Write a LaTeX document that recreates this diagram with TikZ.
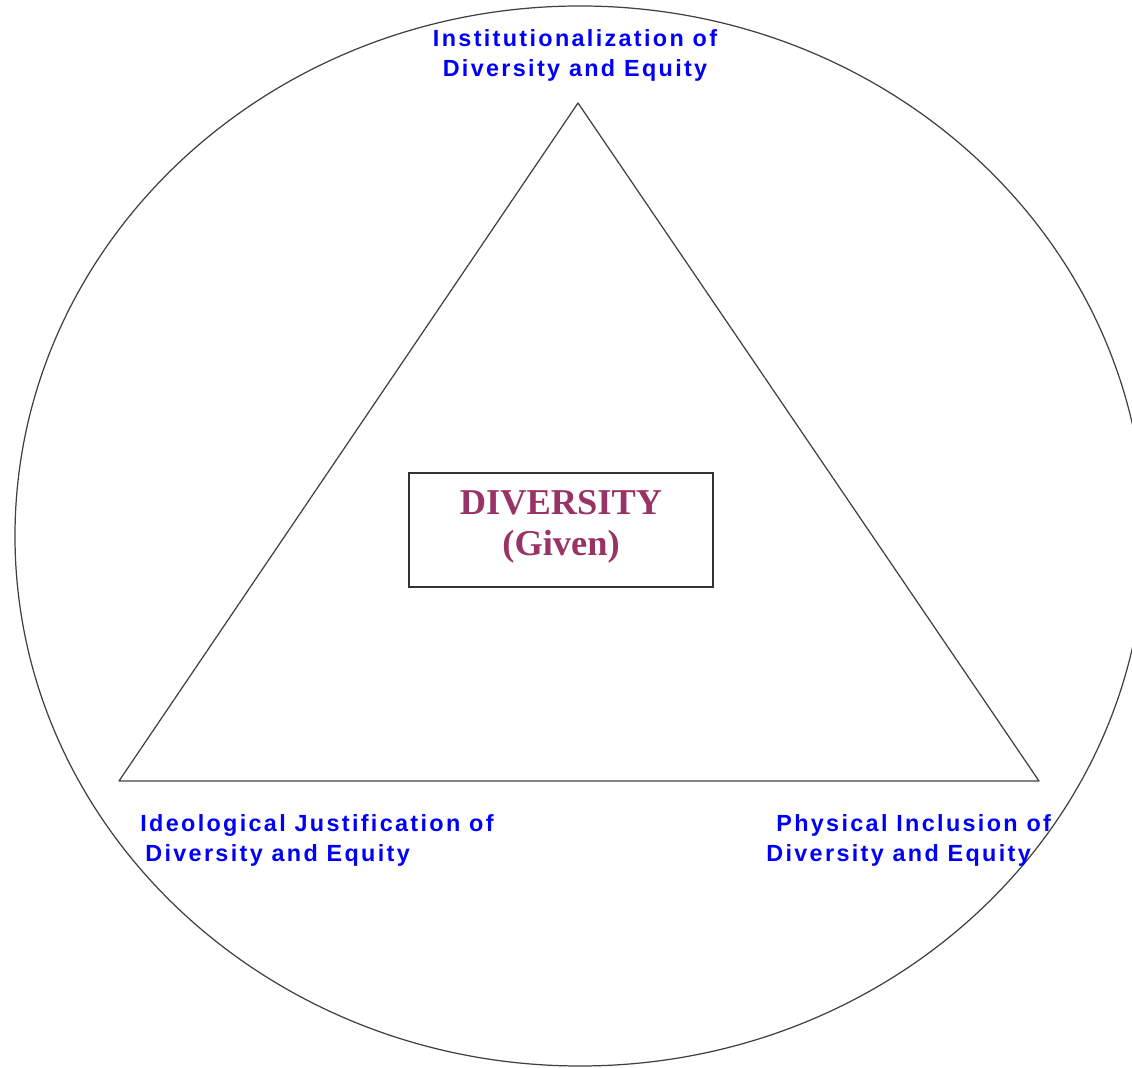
\documentclass[tikz,border=0pt]{standalone}
\usepackage{fontspec}
\usepackage{tkz-euclide}
\setmainfont{Liberation Serif}
\newfontfamily\cornerfont[LetterSpace=10]{Liberation Sans}
\definecolor{cornerblue}{RGB}{0,0,250}
\definecolor{givenred}{RGB}{153,51,102}

\begin{document}
\begin{tikzpicture}[
  corner/.style={text=cornerblue,font=\cornerfont\bfseries\fontsize{13.3}{17}\selectfont,inner sep=0pt,align=left},
  given/.style={draw=black!80,line width=0.7pt,text=givenred,font=\bfseries\fontsize{20.7}{23.3}\selectfont,minimum width=6.08cm,minimum height=2.28cm,text depth=0.3cm,align=center}]
\useasboundingbox (0,0) rectangle (22.64,21.34);

% outer ring
\draw[black!75,line width=0.7pt] (11.60,10.62) ellipse [x radius=11.3,y radius=10.6];

\tkzDefPoint(11.56,19.28){A}
\tkzDefPoint(2.38,5.72){B}
\tkzDefPoint(20.78,5.72){C}
\tkzDrawPolygon[black!75,line width=0.7pt](A,B,C)

\node[given] (div) at (11.22,10.74) {DIVERSITY\\(Given)};

\node[corner,anchor=north,align=center] (inst) at (11.50,20.76) {Institutionalization of\\Diversity and Equity};
\node[corner,anchor=north west] (ideo) at (2.80,5.06) {Ideological Justification of\\\hspace*{0.1cm}Diversity and Equity};
\node[corner,anchor=north west] (phys) at (15.32,5.06) {\hspace*{0.2cm}Physical Inclusion of\\Diversity and Equity};
\end{tikzpicture}
\end{document}
